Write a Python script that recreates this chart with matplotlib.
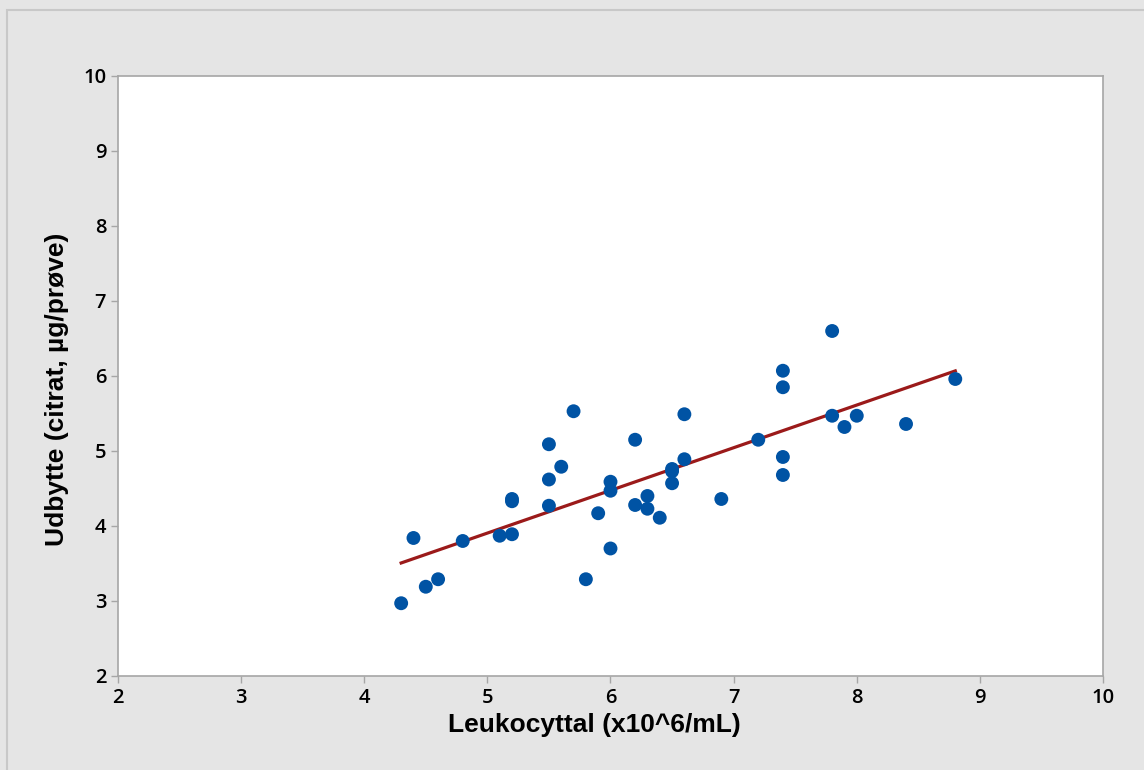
import numpy as np
import matplotlib.pyplot as plt
from matplotlib.patches import Rectangle

leuko = [4.3, 4.4, 4.5, 4.6, 4.8, 5.1, 5.2, 5.2, 5.2, 5.5, 5.5, 5.5, 5.6, 5.7,
         5.8, 5.9, 6.0, 6.0, 6.0, 6.2, 6.2, 6.3, 6.3, 6.4, 6.5, 6.5, 6.5, 6.6,
         6.6, 6.9, 7.2, 7.4, 7.4, 7.4, 7.4, 7.8, 7.8, 7.9, 8.0, 8.4, 8.8]
udbytte = [2.97, 3.84, 3.19, 3.29, 3.80, 3.87, 4.36, 4.33, 3.89, 5.09, 4.62, 4.27,
           4.79, 5.53, 3.29, 4.17, 4.59, 4.47, 3.70, 5.15, 4.28, 4.40, 4.23, 4.11,
           4.76, 4.73, 4.57, 5.49, 4.89, 4.36, 5.15, 6.07, 5.85, 4.92, 4.68, 6.60,
           5.47, 5.32, 5.47, 5.36, 5.96]

xlabel = "Leukocyttal (x10^6/mL)"
ylabel = "Udbytte (citrat, µg/prøve)"

fig = plt.figure(figsize=(11.44, 7.70), dpi=100, facecolor='#e5e5e5')
fig.patches.append(Rectangle((7/1144, -0.1), 1.2, 1 - 10/770 + 0.1,
                             transform=fig.transFigure, fill=False,
                             edgecolor='#c8c8c8', linewidth=1.5))
ax = fig.add_axes([0.1031, 0.1221, 0.8611, 0.7792])

# fit line
b, a = np.polyfit(leuko, udbytte, 1)
xf = np.array([min(leuko), max(leuko)])
ax.plot(xf, a + b * xf, color='#9b1a1a', lw=2.3, zorder=2)
ax.scatter(leuko, udbytte, s=100, color='#0053a4', edgecolors='none', zorder=3)

ax.set_xlim(2, 10)
ax.set_ylim(2, 10)
ax.set_xticks(range(2, 11))
ax.set_yticks(range(2, 11))
for s in ax.spines.values():
    s.set_color('#a6a6a6')
    s.set_linewidth(1.2)
ax.tick_params(colors='#a6a6a6', labelcolor='black', length=5, width=1,
               labelsize=14.5)
for lab in ax.get_xticklabels() + ax.get_yticklabels():
    lab.set_family('Open Sans')
    lab.set_fontweight('semibold')

ax.set_xlabel(xlabel, fontsize=19, fontweight='bold', family='Liberation Sans', labelpad=4)
ax.set_ylabel(ylabel, fontsize=19, fontweight='bold', family='Liberation Sans', labelpad=10)
ax.xaxis.label.set_x(0.484)
ax.yaxis.label.set_y(0.477)

fig.savefig('out.png', facecolor=fig.get_facecolor())
